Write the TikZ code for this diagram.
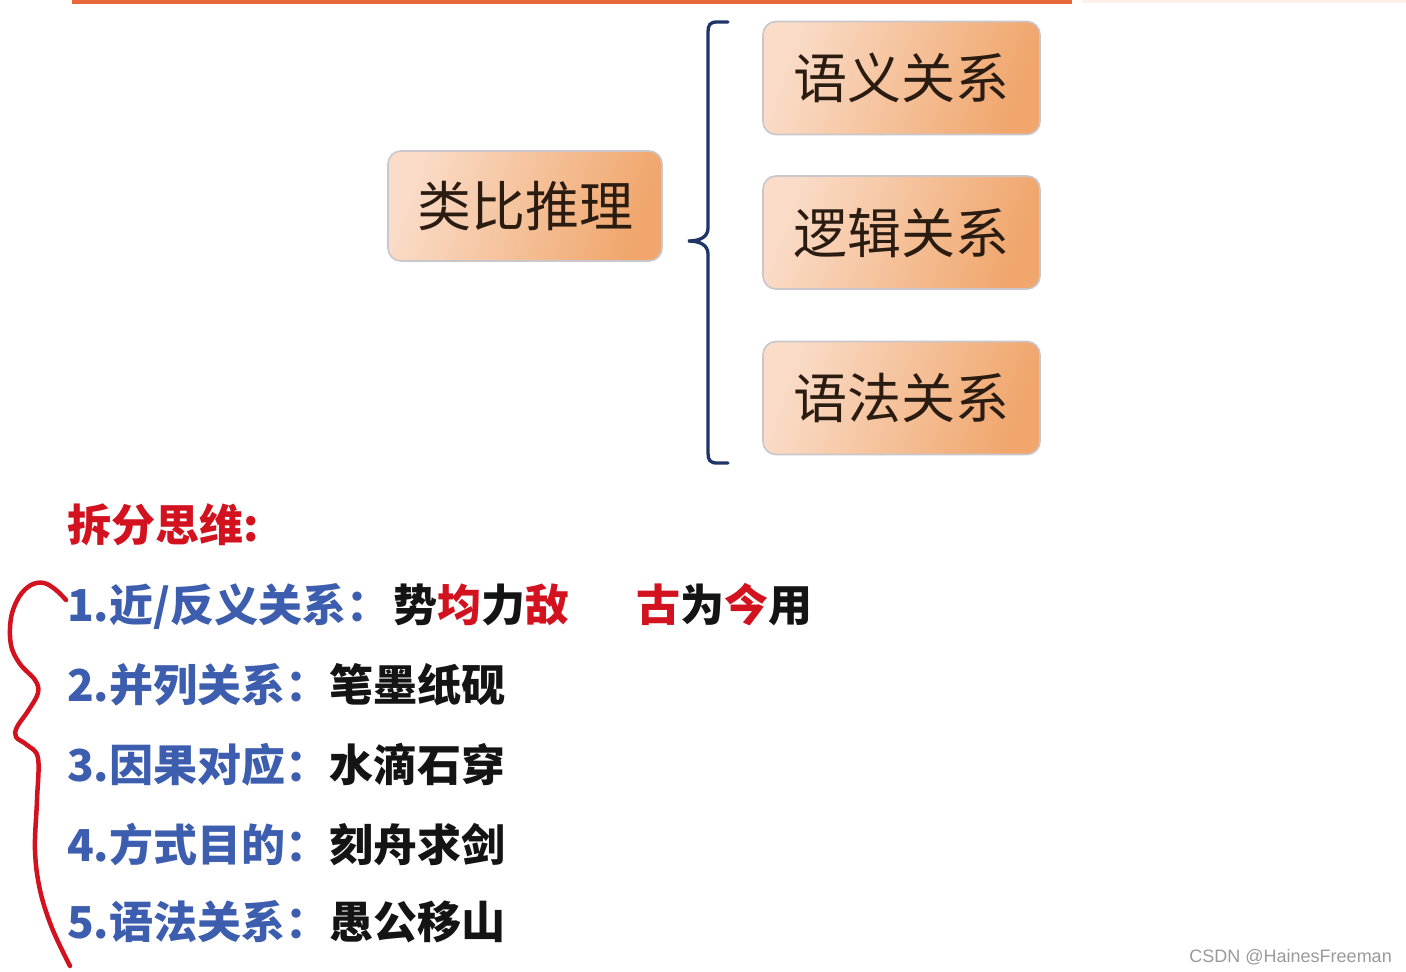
\documentclass[tikz,border=0pt]{standalone}
\usepackage{fontspec}
\newfontfamily\cjk{Noto Sans CJK SC}
\setsansfont{Liberation Sans}
\definecolor{barorange}{HTML}{E8683A}
\definecolor{barfaint}{HTML}{FBF1EA}
\definecolor{boxlight}{HTML}{FADCC8}
\definecolor{boxmid}{HTML}{F3B07A}
\definecolor{boxdark}{HTML}{F0A66C}
\definecolor{boxedge}{HTML}{C9C6CC}
\definecolor{boxtext}{HTML}{2B1C12}
\definecolor{navy}{HTML}{1F3566}
\definecolor{hdred}{HTML}{D3121F}
\definecolor{itblue}{HTML}{3D5DAE}
\definecolor{itblack}{HTML}{141414}
\definecolor{wmgray}{HTML}{9A9A9A}
\tikzset{
  catbox/.style={draw=boxedge, line width=1.6pt, rounded corners=13pt,
    left color=boxlight, middle color=boxmid, right color=boxdark, shading angle=70,
    minimum width=277pt, minimum height=113pt, inner sep=0pt,
    font=\cjk\fontsize{54}{54}\selectfont, text=boxtext},
  mainbox/.style={catbox, minimum width=274pt, minimum height=110pt},
  heading/.style={anchor=base west, inner sep=0pt, font=\cjk\bfseries\fontsize{44}{44}\selectfont, text=hdred},
  itemlab/.style={anchor=base west, inner sep=0pt, font=\cjk\bfseries\fontsize{44}{44}\selectfont, text=itblue},
  itemex/.style={anchor=base west, inner sep=0pt, font=\cjk\bfseries\fontsize{44}{44}\selectfont, text=itblack},
  bracket/.style={draw=navy, line width=3.3pt, line cap=round},
  redcurve/.style={draw=hdred, line width=4.5pt, line cap=round, line join=round},
}
\begin{document}
\begin{tikzpicture}[x=1pt,y=-1pt]
\useasboundingbox (0,0) rectangle (1406,972);
\fill[white] (0,0) rectangle (1406,972);
% top bars
\fill[barorange] (72,0) rectangle (1072,3.5);
\fill[barfaint] (1082,0) rectangle (1406,3);
% boxes
\node[mainbox] (main) at (525,206) {类比推理};
\node[catbox] (b1) at (901.5,78) {语义关系};
\node[catbox] (b2) at (901.5,232.5) {逻辑关系};
\node[catbox] (b3) at (901.5,398) {语法关系};
% bracket
\coordinate (tipL) at (688,241);
\coordinate (topR) at (728,22);
\coordinate (botR) at (728,463);
\draw[bracket] (topR) -- (717,22) .. controls (710,22) and (708,25) .. (708,32)
  -- (708,228) .. controls (708,237) and (700,241) .. (tipL)
  .. controls (700,241) and (708,245) .. (708,254)
  -- (708,453) .. controls (708,460) and (710,463) .. (717,463) -- (botR);
% heading
\node[heading] (hd) at (67,541) {拆分思维:};
% items
\node[itemlab] (l1) at (67,621) {1.近/反义关系：};
\node[itemex] (e1) at (393,621) {势{\color{hdred}均}力{\color{hdred}敌}};
\node[itemex] (e1b) at (636,621) {{\color{hdred}古}为{\color{hdred}今}用};
\node[itemlab] (l2) at (67,701) {2.并列关系：};
\node[itemex] (e2) at (329,701) {笔墨纸砚};
\node[itemlab] (l3) at (67,781) {3.因果对应：};
\node[itemex] (e3) at (329,781) {水滴石穿};
\node[itemlab] (l4) at (67,861) {4.方式目的：};
\node[itemex] (e4) at (329,861) {刻舟求剑};
\node[itemlab] (l5) at (67,938) {5.语法关系：};
\node[itemex] (e5) at (329,938) {愚公移山};
% red hand-drawn brace
\draw[redcurve] plot[smooth, tension=0.6] coordinates {
  (66,600) (56,590) (44,583) (31,585) (19,597) (11,618) (11,645)
  (20,664) (35,680) (38,693) (28,711) (17,727) (16,737) (27,745)
  (38,758) (37,800) (35,850) (40,890) (52,928) (70,966)};
% watermark
\node[anchor=base east, inner sep=0pt, font=\sffamily\fontsize{18}{18}\selectfont, text=wmgray] (wm) at (1392,962) {CSDN @HainesFreeman};
\end{tikzpicture}
\end{document}
